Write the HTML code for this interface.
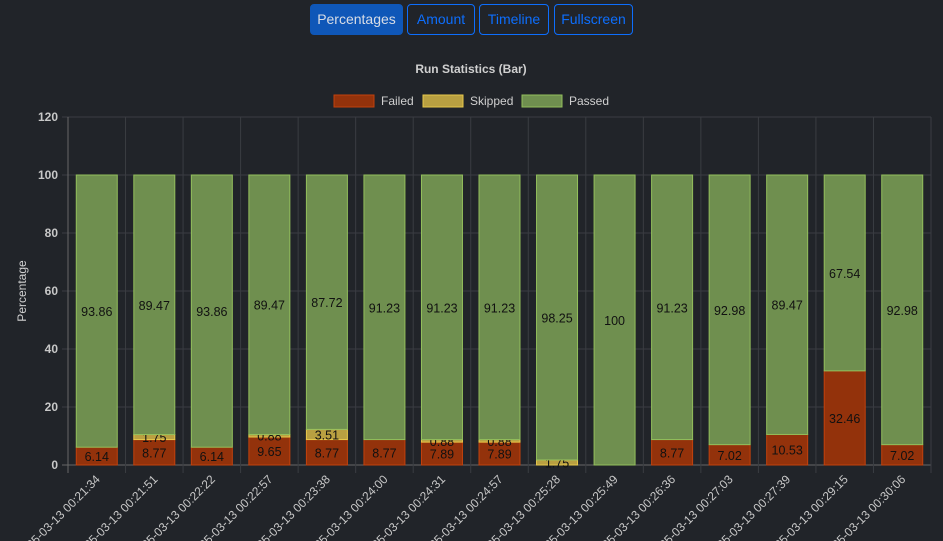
<!DOCTYPE html>
<html><head><meta charset="utf-8"><style>
html,body{margin:0;padding:0;background:#212429;width:943px;height:541px;overflow:hidden;font-family:"Liberation Sans",sans-serif}
.btn{position:absolute;top:4px;height:31px;box-sizing:border-box;border:1px solid #0d6efd;border-radius:4px;color:#0d6efd;font-size:14px;line-height:29px;text-align:center;background:transparent}
.btn.active{background:#0f57b8;border-color:#0f57b8;color:#d8dde6}
</style></head><body>
<div>
<div class="btn active" style="left:310px;width:93px">Percentages</div>
<div class="btn" style="left:407px;width:68px">Amount</div>
<div class="btn" style="left:479px;width:70px">Timeline</div>
<div class="btn" style="left:554px;width:79px">Fullscreen</div>
</div>
<svg id="chart" width="943" height="541" style="position:absolute;left:0;top:0"></svg>
<script>
const categories=["2025-03-13 00:21:34","2025-03-13 00:21:51","2025-03-13 00:22:22","2025-03-13 00:22:57","2025-03-13 00:23:38","2025-03-13 00:24:00","2025-03-13 00:24:31","2025-03-13 00:24:57","2025-03-13 00:25:28","2025-03-13 00:25:49","2025-03-13 00:26:36","2025-03-13 00:27:03","2025-03-13 00:27:39","2025-03-13 00:29:15","2025-03-13 00:30:06"];
const failed=[6.14,8.77,6.14,9.65,8.77,8.77,7.89,7.89,0,0,8.77,7.02,10.53,32.46,7.02];
const skipped=[0,1.75,0,0.88,3.51,0,0.88,0.88,1.75,0,0,0,0,0,0];
const passed=[93.86,89.47,93.86,89.47,87.72,91.23,91.23,91.23,98.25,100,91.23,92.98,89.47,67.54,92.98];
const yTicks=[0,20,40,60,80,100,120];
const svg=document.getElementById('chart');const NS='http://www.w3.org/2000/svg';
const L=68,R=931,T=117,B=465,yMax=120;
const y=v=>B-(v/yMax)*(B-T);
const bw=(R-L)/categories.length;
const xc=i=>L+bw*(i+0.5);
function mk(tag,attrs,name,text){const e=document.createElementNS(NS,tag);for(const k in attrs)e.setAttribute(k,attrs[k]);


if(text!==undefined)e.textContent=text;svg.appendChild(e);return e;}
mk('text',{x:471,y:73,'text-anchor':'middle','font-size':12,'font-weight':'bold',fill:'#d0d0d0'},'chart-title','Run Statistics (Bar)');
const leg=[['Failed','#93320b','#c2410c',334],['Skipped','#b9a041','#e8c84a',423],['Passed','#6f8f4f','#93bf5c',522]];
leg.forEach(l=>{mk('rect',{x:l[3],y:95,width:40,height:12,fill:l[1],stroke:l[2]},'legend-swatch-'+l[0].toLowerCase());
mk('text',{x:l[3]+47,y:105,'font-size':12,fill:'#d0d0d0'},'legend-label-'+l[0].toLowerCase(),l[0]);});
yTicks.forEach(t=>{mk('line',{x1:L-6,x2:R,y1:y(t),y2:y(t),stroke:t===0?'#666':'#3a3d42'},'grid-y-'+t);
mk('text',{x:L-10,y:y(t)+4,'text-anchor':'end','font-size':12,'font-weight':'bold',fill:'#c8c8c8'},'y-tick-'+t,t);});
for(let i=0;i<=categories.length;i++){mk('line',{x1:L+bw*i,x2:L+bw*i,y1:T,y2:B+8,stroke:i===0?'#666':'#3a3d42'},'grid-x-'+i);}
mk('text',{x:26,y:291,'text-anchor':'middle','font-size':12,fill:'#d0d0d0',transform:'rotate(-90 26 291)'},'y-axis-title','Percentage');
const w=41;
categories.forEach((c,i)=>{const x0=xc(i)-w/2;let base=0;
[[failed,'#93320b','#c2410c','failed'],[skipped,'#b9a041','#e8c84a','skipped'],[passed,'#6f8f4f','#93bf5c','passed']].forEach(s=>{
const v=s[0][i];if(v>0){mk('rect',{x:x0,y:y(base+v),width:w,height:y(base)-y(base+v),fill:s[1],stroke:s[2],'stroke-width':1},'bar-'+s[3]+'-'+i);
mk('text',{x:xc(i),y:(y(base)+y(base+v))/2+5,'text-anchor':'middle','font-size':12.5,fill:'#111'},'value-'+s[3]+'-'+i,v);}
base+=v;});
const lx=xc(i)+4,ly=480;
mk('text',{x:lx,y:ly,'text-anchor':'end','font-size':12,fill:'#c8c8c8',transform:`rotate(-45 ${lx} ${ly})`},'x-tick-'+i,c);
});
</script>
</body></html>
